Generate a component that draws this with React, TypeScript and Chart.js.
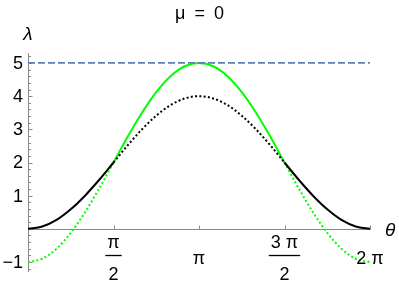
import React, { useEffect, useRef } from "react";
import { Chart, registerables } from "chart.js";

Chart.register(...registerables);

// θ sample positions (radians) and values
const THETA = [0, 0.262, 0.524, 0.785, 1.047, 1.309, 1.571, 1.833, 2.094, 2.356, 2.618, 2.88, 3.142, 3.403, 3.665, 3.927, 4.189, 4.451, 4.712, 4.974, 5.236, 5.498, 5.76, 6.021, 6.283];
const BLACK_VALUES = [0, 0.07, 0.27, 0.59, 1.0, 1.48, 2.0, 2.52, 3.0, 3.41, 3.73, 3.93, 4.0, 3.93, 3.73, 3.41, 3.0, 2.52, 2.0, 1.48, 1.0, 0.59, 0.27, 0.07, 0];
const GREEN_VALUES = [-1.0, -0.9, -0.6, -0.12, 0.5, 1.22, 2.0, 2.78, 3.5, 4.12, 4.6, 4.9, 5.0, 4.9, 4.6, 4.12, 3.5, 2.78, 2.0, 1.22, 0.5, -0.12, -0.6, -0.9, -1.0];
const LIMIT_X = [0, 6.283];
const LIMIT_VALUES = [5, 5];

const X_TICK_VALUES = [1.5708, 3.1416, 4.7124, 6.2832];
const X_TICK_NUM = ["π", "", "3 π", ""];
const X_TICK_DEN = ["2", "", "2", ""];
const X_TICK_SINGLE = ["", "π", "", "2 π"];
const Y_TICK_VALUES = [-1, 1, 2, 3, 4, 5];
const Y_TICK_LABELS = ["−1", "1", "2", "3", "4", "5"];
const Y_MINOR = [-1.2, -0.8, -0.6, -0.4, -0.2, 0.2, 0.4, 0.6, 0.8, 1.2, 1.4, 1.6, 1.8, 2.2, 2.4, 2.6, 2.8, 3.2, 3.4, 3.6, 3.8, 4.2, 4.4, 4.6, 4.8, 5.2];

const TITLE = "μ = 0";
const X_LABEL = "θ";
const Y_LABEL = "λ";

const FONT = "'Liberation Sans', Arial, sans-serif";
const AXIS_COLOR = "#8a8a8a";

const HALF_PI = 1.5708;
const THREE_HALF_PI = 4.7124;

function inMiddle(ctx: any) {
  const a = ctx.p0.parsed.x;
  const b = ctx.p1.parsed.x;
  return a >= HALF_PI - 0.01 && b <= THREE_HALF_PI + 0.01;
}

const axesPlugin = {
  id: "mmaAxes",
  beforeDatasetsDraw(chart: any) {
    const { ctx, scales } = chart;
    const xs = scales.x;
    const ys = scales.y;
    const x0 = Math.round(xs.getPixelForValue(0)) + 0.5;
    const y0 = Math.round(ys.getPixelForValue(0)) + 0.5;
    ctx.save();
    ctx.strokeStyle = AXIS_COLOR;
    ctx.lineWidth = 1;
    ctx.beginPath();
    ctx.moveTo(x0, ys.top);
    ctx.lineTo(x0, ys.bottom);
    ctx.moveTo(xs.left, y0);
    ctx.lineTo(xs.right + 1, y0);
    Y_TICK_VALUES.forEach((v) => {
      const py = Math.round(ys.getPixelForValue(v)) + 0.5;
      ctx.moveTo(x0, py);
      ctx.lineTo(x0 + 4, py);
    });
    Y_MINOR.forEach((v) => {
      const py = Math.round(ys.getPixelForValue(v)) + 0.5;
      ctx.moveTo(x0, py);
      ctx.lineTo(x0 + 2.5, py);
    });
    X_TICK_VALUES.forEach((v) => {
      const px = Math.round(xs.getPixelForValue(v)) + 0.5;
      ctx.moveTo(px, y0);
      ctx.lineTo(px, y0 - 4);
    });
    ctx.stroke();
    ctx.restore();
  },
  afterDraw(chart: any) {
    const { ctx, scales } = chart;
    const xs = scales.x;
    const ys = scales.y;
    const x0 = xs.getPixelForValue(0);
    const y0 = ys.getPixelForValue(0);
    ctx.save();
    ctx.fillStyle = "#000";
    ctx.font = `18px ${FONT}`;
    ctx.textBaseline = "middle";
    ctx.textAlign = "right";
    Y_TICK_VALUES.forEach((v, i) => {
      ctx.fillText(Y_TICK_LABELS[i], x0 - 5, ys.getPixelForValue(v) + 1);
    });
    ctx.textAlign = "center";
    X_TICK_VALUES.forEach((v, i) => {
      const px = xs.getPixelForValue(v);
      if (X_TICK_SINGLE[i]) {
        ctx.fillText(X_TICK_SINGLE[i], px, y0 + 30);
      } else {
        ctx.fillText(X_TICK_NUM[i], px, y0 + 14);
        ctx.fillText(X_TICK_DEN[i], px, y0 + 46);
        const w = Math.max(ctx.measureText(X_TICK_NUM[i]).width, ctx.measureText(X_TICK_DEN[i]).width) + 4;
        ctx.fillRect(px - w / 2, y0 + 26, w, 1.3);
      }
    });
    ctx.font = `18px ${FONT}`;
    (ctx as any).letterSpacing = "2px";
    ctx.fillText(TITLE, chart.width / 2 + 1, 14);
    (ctx as any).letterSpacing = "0px";
    ctx.font = `italic 19px ${FONT}`;
    ctx.fillText(Y_LABEL, x0, 35);
    ctx.textAlign = "left";
    ctx.fillText(X_LABEL, xs.right + 15, y0 + 2);
    ctx.restore();
  },
};

export default function App() {
  const ref = useRef<HTMLCanvasElement | null>(null);
  useEffect(() => {
    if (!ref.current) return;
    const chart = new Chart(ref.current, {
      type: "line",
      data: {
        datasets: [
          {
            label: "limit",
            data: LIMIT_X.map((x, i) => ({ x, y: LIMIT_VALUES[i] })),
            borderColor: "#5e81b5",
            borderWidth: 1.8,
            borderDash: [7, 3],
            pointRadius: 0,
            fill: false,
          },
          {
            label: "black",
            data: THETA.map((x, i) => ({ x, y: BLACK_VALUES[i] })),
            borderColor: "#000000",
            borderWidth: 2,
            pointRadius: 0,
            cubicInterpolationMode: "monotone",
            segment: {
              borderDash: (c: any) => (inMiddle(c) ? [2, 2.3] : undefined),
            },
            fill: false,
          },
          {
            label: "green",
            data: THETA.map((x, i) => ({ x, y: GREEN_VALUES[i] })),
            borderColor: "#00ff00",
            borderWidth: 2,
            pointRadius: 0,
            cubicInterpolationMode: "monotone",
            segment: {
              borderDash: (c: any) => (inMiddle(c) ? undefined : [2, 2.3]),
            },
            fill: false,
          },
        ],
      },
      options: {
        animation: false,
        responsive: false,
        maintainAspectRatio: false,
        layout: { padding: { left: 28, right: 29, top: 53, bottom: 12 } },
        plugins: { legend: { display: false }, tooltip: { enabled: false }, title: { display: false } },
        scales: {
          x: { type: "linear", min: 0, max: 6.2832, display: false },
          y: { type: "linear", min: -1.3, max: 5.3, display: false },
        },
      },
      plugins: [axesPlugin],
    } as any);
    return () => chart.destroy();
  }, []);
  return (
    <div style={{ position: "fixed", left: 0, top: 0, width: 399, height: 284, background: "#fff" }}>
      <canvas ref={ref} width={399} height={284} />
    </div>
  );
}
